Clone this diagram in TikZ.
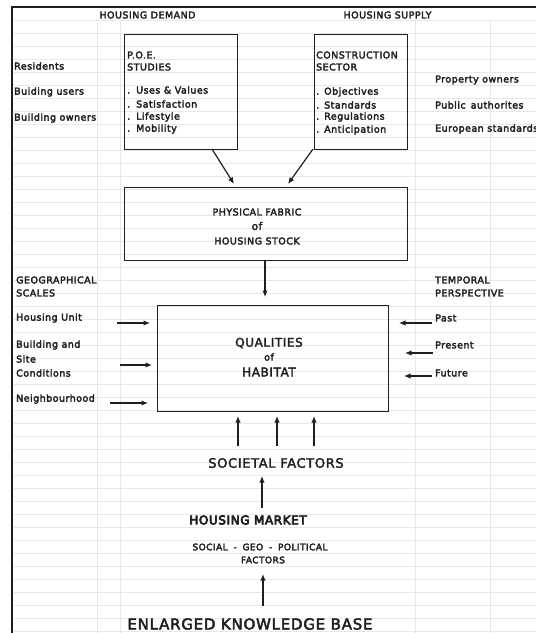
\documentclass[tikz,border=0pt]{standalone}
\usepackage{fontspec}
\usetikzlibrary{arrows.meta}
\setmainfont{DejaVu Sans}[LetterSpace=5]
\definecolor{ink}{gray}{0.12}
% text drawn with a thin outline stroke to give it a heavier weight
\newcommand{\strokeon}[1]{\special{pdf:literal direct 2 Tr #1 w}}
\newcommand{\strokeoff}{\special{pdf:literal direct 0 Tr}}
\tikzset{
  arr/.style={ink, line width=1.2pt, -{Latex[length=6.5pt,width=5.5pt]}},
  box/.style={draw=ink, line width=1.2pt, inner sep=0pt, anchor=north west},
  heavy/.style={execute at begin node={\strokeon{#1}}, execute at end node={\strokeoff}},
  heavy/.default=0.3,
  lab/.style={anchor=west, inner sep=0pt, font=\fontsize{9.5}{11}\selectfont, text=ink, heavy},
  ctr/.style={anchor=center, inner sep=0pt, font=\fontsize{9.5}{11}\selectfont, text=ink, align=center, heavy},
  ghost/.style={black!9, line width=0.6pt}
}
\begin{document}
\begin{tikzpicture}[x=1pt, y=-1pt]
\useasboundingbox (0,0) rectangle (536,633);
\fill[white] (0,0) rectangle (536,633);

% faint ruled background
\foreach \yy in {20,33,...,633} \draw[ghost] (14,\yy) -- (536,\yy);
\foreach \xx in {97,120,415,490} \draw[ghost] (\xx,20) -- (\xx,633);

% outer frame
\draw[ink, line width=2.4pt] (11,7) -- (536,7);
\draw[ink, line width=2pt] (12,7) -- (12,633);

% column headings
\node[ctr] (hd) at (147.5,15) {HOUSING DEMAND};
\node[ctr] (hs) at (387.5,15) {HOUSING SUPPLY};

% demand side
\node[lab] (res) at (14,66) {Residents};
\node[lab] (bu) at (14,92) {Buiding users};
\node[lab] (bo) at (14,118) {Building owners};

\node[box, minimum width=113pt, minimum height=115pt] (poe) at (124,34) {};
\node[lab] (poe1) at (127,55) {P.O.E.};
\node[lab] (poe2) at (127,67) {STUDIES};
\node[lab] (poe3) at (127,90) {.\hspace{6pt}Uses \& Values};
\node[lab] (poe4) at (127,104) {.\hspace{6pt}Satisfaction};
\node[lab] (poe5) at (127,117) {.\hspace{6pt}Lifestyle};
\node[lab] (poe6) at (127,129) {.\hspace{6pt}Mobility};

% supply side
\node[box, minimum width=93pt, minimum height=115pt] (con) at (314,34) {};
\node[lab] (con1) at (316,55) {CONSTRUCTION};
\node[lab] (con2) at (316,67) {SECTOR};
\node[lab] (con3) at (316,92) {.\hspace{5pt}Objectives};
\node[lab] (con4) at (316,105) {.\hspace{5pt}Standards};
\node[lab] (con5) at (316,117) {.\hspace{5pt}Regulations};
\node[lab] (con6) at (316,130) {.\hspace{5pt}Anticipation};

\node[lab] (po) at (435,80) {Property owners};
\node[lab] (pa) at (435,105) {Public\, authorites};
\node[lab] (es) at (435,129) {European standards};

% physical fabric
\node[box, minimum width=283pt, minimum height=73pt] (fab) at (124,187) {};
\node[ctr] (fab1) at (257,212) {PHYSICAL FABRIC};
\node[ctr, font=\fontsize{10.5}{12}\selectfont] (fab2) at (257,226) {of};
\node[ctr] (fab3) at (257,241) {HOUSING STOCK};

\coordinate (poeout) at (212,149);
\coordinate (fabinl) at (234,184);
\coordinate (conout) at (313,149);
\coordinate (fabinr) at (288,184);
\draw[arr] (poeout) -- (fabinl);
\draw[arr] (conout) -- (fabinr);

% qualities of habitat
\node[box, minimum width=231pt, minimum height=106pt] (qual) at (157,305) {};
\node[ctr, font=\fontsize{12}{14}\selectfont] (q1) at (269,343) {QUALITIES};
\node[ctr, font=\fontsize{9.5}{11}\selectfont] (q2) at (269,357) {of};
\node[ctr, font=\fontsize{12}{14}\selectfont] (q3) at (269,372) {HABITAT};

\coordinate (fabout) at (265,261);
\coordinate (qualtop) at (265,297);
\draw[arr] (fabout) -- (qualtop);

% geographical scales
\node[lab] (geo1) at (16,280) {GEOGRAPHICAL};
\node[lab] (geo2) at (16,293) {SCALES};
\node[lab] (hu) at (16,318) {Housing Unit};
\node[lab] (bs1) at (16,345) {Building and};
\node[lab] (bs2) at (16,359) {Site};
\node[lab] (bs3) at (16,373) {Conditions};
\node[lab] (nb) at (16,399) {Neighbourhood};

\coordinate (hua) at (117,323);  \coordinate (hub) at (150,323);
\coordinate (bsa) at (120,365);  \coordinate (bsb) at (152,365);
\coordinate (nba) at (110,403);  \coordinate (nbb) at (148,403);
\draw[arr] (hua) -- (hub);
\draw[arr] (bsa) -- (bsb);
\draw[arr] (nba) -- (nbb);

% temporal perspective
\node[lab] (tp1) at (435,280) {TEMPORAL};
\node[lab] (tp2) at (435,293) {PERSPECTIVE};
\node[lab] (past) at (435,318) {Past};
\node[lab] (pres) at (435,345) {Present};
\node[lab] (fut) at (435,373) {Future};

\coordinate (pa1) at (432,323);  \coordinate (pa2) at (399,323);
\coordinate (pr1) at (433,353);  \coordinate (pr2) at (405,353);
\coordinate (fu1) at (432,376);  \coordinate (fu2) at (404,376);
\draw[arr] (pa1) -- (pa2);
\draw[arr] (pr1) -- (pr2);
\draw[arr] (fu1) -- (fu2);

% societal factors and below
\foreach \xx [count=\i] in {238,277,314} {
  \coordinate (sf\i) at (\xx,446);
  \coordinate (qb\i) at (\xx,416);
  \draw[arr] (sf\i) -- (qb\i);
}
\node[ctr, font=\fontsize{13}{15}\selectfont] (soc) at (276,463) {SOCIETAL FACTORS};

\node[ctr, heavy=0.7, font=\fontsize{12}{14}\selectfont] (hm) at (248,520) {HOUSING MARKET};
\coordinate (hmtop) at (262,508);
\coordinate (socbot) at (262,476);
\draw[arr] (hmtop) -- (socbot);

\node[ctr, font=\fontsize{9}{11}\selectfont] (sgp1) at (260,547) {SOCIAL\; -\; GEO\; -\; POLITICAL};
\node[ctr, font=\fontsize{9}{11}\selectfont] (sgp2) at (263,560) {FACTORS};

\node[ctr, heavy=0.45, font=\fontsize{15}{18}\selectfont] (ekb) at (250,624) {ENLARGED KNOWLEDGE BASE};
\coordinate (ekbtop) at (263,606);
\coordinate (sgpbot) at (263,574);
\draw[arr] (ekbtop) -- (sgpbot);
\end{tikzpicture}
\end{document}
